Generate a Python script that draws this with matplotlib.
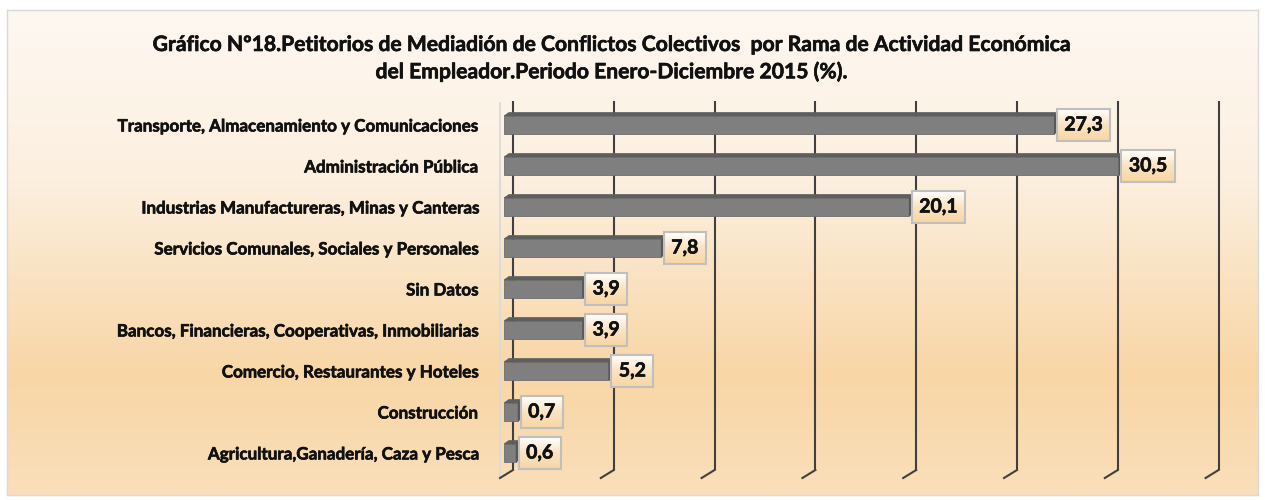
import numpy as np
import matplotlib
matplotlib.use("Agg")
import matplotlib.pyplot as plt
import matplotlib.patheffects as pe
from matplotlib.patches import Polygon
from matplotlib.colors import LinearSegmentedColormap

plt.rcParams['font.family'] = ['Lato', 'DejaVu Sans']

categories = [
    "Transporte, Almacenamiento y Comunicaciones",
    "Administración Pública",
    "Industrias Manufactureras, Minas y Canteras",
    "Servicios Comunales, Sociales y Personales",
    "Sin Datos",
    "Bancos, Financieras, Cooperativas, Inmobiliarias",
    "Comercio, Restaurantes y Hoteles",
    "Construcción",
    "Agricultura,Ganadería, Caza y Pesca",
]
values = [27.3, 30.5, 20.1, 7.8, 3.9, 3.9, 5.2, 0.7, 0.6]
value_labels = ["27,3", "30,5", "20,1", "7,8", "3,9", "3,9", "5,2", "0,7", "0,6"]
x_ticks = [0, 5, 10, 15, 20, 25, 30, 35]
title_lines = ["Gráfico Nº18.Petitorios de Mediadión de Conflictos Colectivos  por Rama de Actividad Económica",
               "del Empleador.Periodo Enero-Diciembre 2015 (%)."]

W, H, DPI = 1265, 500, 100
fig = plt.figure(figsize=(W / DPI, H / DPI), dpi=DPI)
fig.patch.set_facecolor('white')
thick = [pe.withStroke(linewidth=0.45, foreground='#111111')]

# background panel with vertical gradient
bg = fig.add_axes([7 / W, 5 / H, 1251 / W, 485 / H], zorder=-10)
grad_cmap = LinearSegmentedColormap.from_list(
    'bg', [(0.0, '#FEF8F2'), (0.35, '#FCEFDF'), (0.75, '#F8D6A6'), (1.0, '#FADFBA')])
g = np.linspace(0, 1, 256).reshape(-1, 1)
bg.imshow(g, aspect='auto', cmap=grad_cmap, extent=[0, 1, 0, 1], origin='upper')
bg.set_xlim(0, 1); bg.set_ylim(0, 1)
bg.set_xticks([]); bg.set_yticks([])
for s in bg.spines.values():
    s.set_color('#D9D9D9'); s.set_linewidth(1.0)

# plotting axes (front face of the 3D plot)
x0px, x1px = 504, 504 + 35 * 20.16
ytop_px, ybot_px = 104.5, 473.5
ax = fig.add_axes([x0px / W, 1 - ybot_px / H, (x1px - x0px) / W, (ybot_px - ytop_px) / H])
ax.set_facecolor('none')
n = len(categories)
ypos = np.arange(n)
ax.set_xlim(0, 35)
ax.set_ylim(n - 0.5, -0.5)
for s in ax.spines.values():
    s.set_visible(False)
ax.set_xticks([])
ax.set_yticks(ypos)
ax.set_yticklabels(categories, fontsize=12.25, fontweight='bold', color='#111111')
for lbl in ax.get_yticklabels():
    lbl.set_path_effects(thick)
ax.tick_params(axis='y', length=0, pad=18.5)

pxx = (x1px - x0px) / 35.0      # pixels per x unit
pxy = (ybot_px - ytop_px) / n    # pixels per category

# gridlines on back wall with floor foot
gdx, gdy = 9 / pxx, -3.5 / pxy
fdx, fdy = -4 / pxx, 4.5 / pxy
for t in x_ticks:
    ax.plot([t + gdx, t + gdx], [-0.5 + gdy, n - 0.5 + gdy], color='#404040', lw=1.5,
            clip_on=False, zorder=1, solid_capstyle='butt')
    ax.plot([t + gdx, t + fdx], [n - 0.5 + gdy, n - 0.5 + fdy], color='#404040', lw=1.5,
            clip_on=False, zorder=1)
# light left wall edge
ax.plot([fdx, fdx], [-0.5 + gdy + 0.06, n - 0.5 + fdy], color='#DADADA', lw=1.3, clip_on=False, zorder=0.5)

# bars with 3D faces
bh = 18 / pxy
bdx, bdy = 5 / pxx, -3.5 / pxy
ax.barh(ypos, values, height=bh, color='#7F7F7F', edgecolor='#6E6E6E', linewidth=0.6, zorder=3)
for y, v in zip(ypos, values):
    top = y - bh / 2
    bot = y + bh / 2
    ax.add_patch(Polygon([(0, top), (v, top), (v + bdx, top + bdy), (bdx, top + bdy)],
                         closed=True, facecolor='#5E5E5E', edgecolor='#5E5E5E', lw=0.5, zorder=3))
    ax.add_patch(Polygon([(v, top), (v, bot), (v + bdx, bot + bdy), (v + bdx, top + bdy)],
                         closed=True, facecolor='#555555', edgecolor='#555555', lw=0.5, zorder=3))

# data labels
texts = []
for y, v, lab in zip(ypos, values, value_labels):
    t = ax.annotate(lab, xy=(v + bdx, y), xytext=(5, 0), textcoords='offset pixels',
                    ha='left', va='center', fontsize=14, fontweight='bold', color='#111111',
                    zorder=6, annotation_clip=False,
                    bbox=dict(boxstyle='square,pad=0.38', facecolor='none', edgecolor='#BFBFBF', lw=1.5))
    t.set_path_effects(thick)
    texts.append(t)

# title
for i, line in enumerate(title_lines):
    tt = fig.text(612 / W, 1 - (45 + 27 * i) / H, line, ha='center', va='center',
                  fontsize=15.2, fontweight='bold', color='#111111')
    tt.set_path_effects(thick)

# gradient fill behind label boxes
fig.canvas.draw()
renderer = fig.canvas.get_renderer()
box_cmap = LinearSegmentedColormap.from_list('box', ['#FFFFFF', '#FBE3C2', '#F8D5A3'])
inv = ax.transData.inverted()
for t in texts:
    bb = t.get_bbox_patch().get_window_extent(renderer)
    (dx0, dy0) = inv.transform((bb.x0, bb.y0))
    (dx1, dy1) = inv.transform((bb.x1, bb.y1))
    ax.imshow(g, cmap=box_cmap, aspect='auto', extent=[dx0, dx1, dy0, dy1], origin='upper',
              zorder=5, clip_on=False, interpolation='bilinear')
ax.set_xlim(0, 35)
ax.set_ylim(n - 0.5, -0.5)
ax.set_aspect('auto')

fig.savefig('out.png', dpi=DPI, facecolor='white')
